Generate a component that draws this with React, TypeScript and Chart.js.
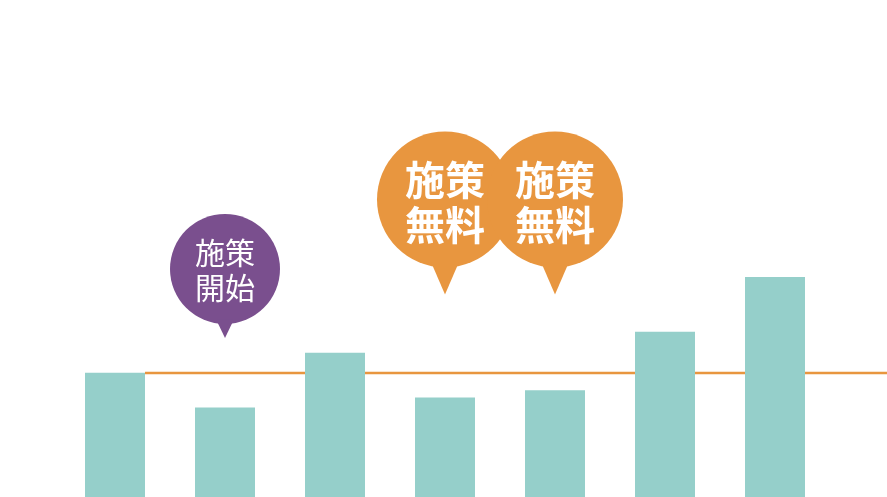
import { useEffect, useRef } from "react";
import { Chart, registerables, type Plugin } from "chart.js";

Chart.register(...registerables);

const categories = ["1", "2", "3", "4", "5", "6", "7"];
const values = [100, 72, 116, 80, 86, 133, 177];
const baseline = 99.8;

// speech bubbles: which bar they sit above, and their two lines of text
const markerIndex = [1, 3, 4];
const markerLines = [
  ["施策", "開始"],
  ["施策", "無料"],
  ["施策", "無料"],
];
const markerKind = ["start", "free", "free"];

const TEAL = "#95CFCA";
const ORANGE = "#E8963F";
const PURPLE = "#7A4F8E";
const FONT = '"Noto Sans CJK JP", "Noto Sans", sans-serif';

const bubbleStyle: Record<string, { color: string; tipValue: number; offset: number; r: number; half: number; size: number; weight: string; gap: number; shift: number }> = {
  start: { color: PURPLE, tipValue: 128, offset: 69, r: 55, half: 9, size: 30, weight: "normal", gap: 35, shift: 1 },
  free: { color: ORANGE, tipValue: 163, offset: 95, r: 68, half: 14, size: 40, weight: "bold", gap: 45, shift: 3 },
};

const baselinePlugin: Plugin<"bar"> = {
  id: "baseline",
  beforeDatasetsDraw(chart) {
    const { ctx } = chart;
    const first = chart.getDatasetMeta(0).data[0] as any;
    const x0 = first.x + first.width / 2;
    const y = chart.scales.y.getPixelForValue(baseline);
    ctx.save();
    ctx.strokeStyle = ORANGE;
    ctx.lineWidth = 2.5;
    ctx.beginPath();
    ctx.moveTo(x0, y);
    ctx.lineTo(chart.width, y);
    ctx.stroke();
    ctx.restore();
  },
};

const bubblePlugin: Plugin<"bar"> = {
  id: "bubbles",
  afterDatasetsDraw(chart) {
    const { ctx } = chart;
    markerIndex.forEach((idx, i) => {
      const s = bubbleStyle[markerKind[i]];
      const cx = chart.scales.x.getPixelForValue(idx);
      const tip = chart.scales.y.getPixelForValue(s.tipValue);
      const cy = tip - s.offset;
      ctx.save();
      ctx.fillStyle = s.color;
      ctx.beginPath();
      ctx.arc(cx, cy, s.r, 0, Math.PI * 2);
      ctx.fill();
      const baseY = cy + Math.sqrt(s.r * s.r - s.half * s.half) - 4;
      ctx.beginPath();
      ctx.moveTo(cx - s.half, baseY);
      ctx.lineTo(cx, tip);
      ctx.lineTo(cx + s.half, baseY);
      ctx.closePath();
      ctx.fill();
      ctx.fillStyle = "#ffffff";
      ctx.font = `${s.weight} ${s.size}px ${FONT}`;
      ctx.textAlign = "center";
      ctx.textBaseline = "middle";
      const lines = markerLines[i];
      lines.forEach((t, k) => {
        const y = cy + s.shift + (k - (lines.length - 1) / 2) * s.gap;
        ctx.fillText(t, cx, y);
      });
      ctx.restore();
    });
  },
};

export default function App() {
  const canvasRef = useRef<HTMLCanvasElement>(null);

  useEffect(() => {
    document.body.style.margin = "0";
    if (!canvasRef.current) return;
    const chart = new Chart(canvasRef.current, {
      type: "bar",
      data: {
        labels: categories,
        datasets: [
          {
            data: values,
            backgroundColor: TEAL,
            borderWidth: 0,
            categoryPercentage: 1,
            barPercentage: 60 / 110,
          },
        ],
      },
      options: {
        responsive: true,
        maintainAspectRatio: false,
        animation: false,
        layout: { padding: { left: 60, right: 57, top: 0, bottom: 0 } },
        plugins: { legend: { display: false }, tooltip: { enabled: false } },
        scales: {
          x: { display: false },
          y: { display: false, min: 0, max: 400 },
        },
      },
      plugins: [baselinePlugin, bubblePlugin],
    });
    return () => chart.destroy();
  }, []);

  return (
    <div style={{ position: "relative", width: 887, height: 497, background: "#fff" }}>
      <canvas ref={canvasRef} />
    </div>
  );
}
